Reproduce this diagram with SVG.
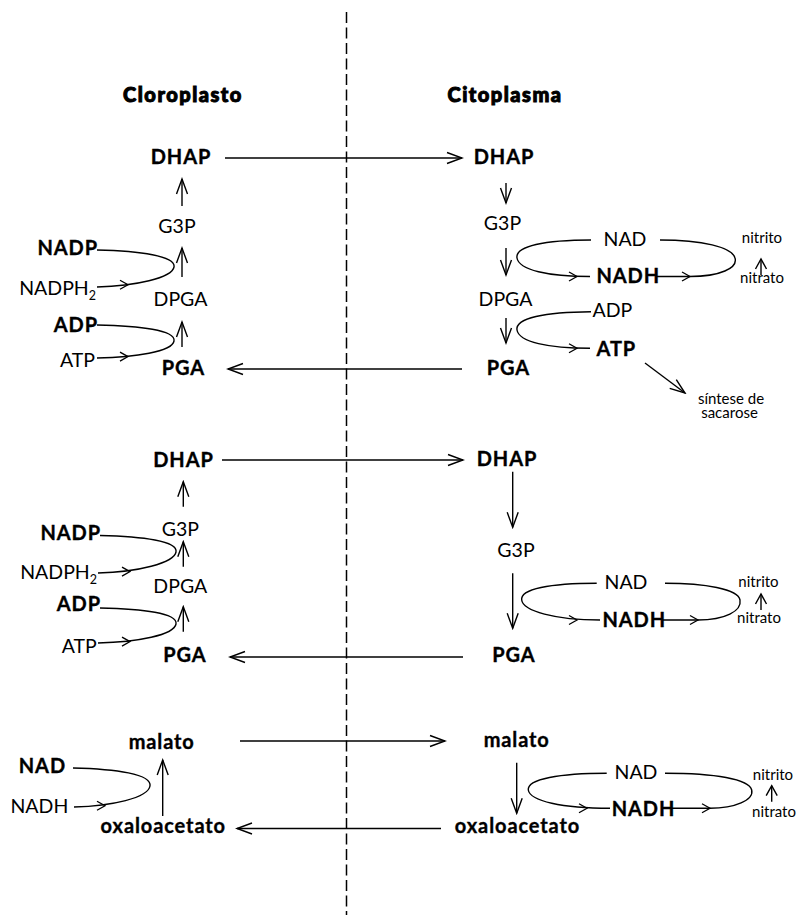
<svg xmlns="http://www.w3.org/2000/svg" width="796" height="915" viewBox="0 0 796 915">
<style>
  text { font-family: Lato, "DejaVu Sans", sans-serif; fill: #000; }
  .r { font-size: 19.5px; }
  .b { font-size: 20px; font-weight: 700; letter-spacing: 0.9px; stroke: #000; stroke-width: 0.35px; }
  .h { font-size: 20px; font-weight: 900; letter-spacing: 1.5px; stroke: #000; stroke-width: 1px; }
  .s { font-size: 15px; }
  .m { text-anchor: middle; }
  .e { text-anchor: end; }
  .ln { fill: none; stroke: #000; stroke-width: 1.4; }
  .ar { marker-end: url(#ah); }
  .ars { marker-end: url(#ahs); }
  .dash { stroke-dasharray: 11 4.5; stroke-width: 1.5; }
</style>
<defs>
  <marker id="ah" markerUnits="userSpaceOnUse" markerWidth="20" markerHeight="16" viewBox="-18 -8 20 16" refX="0" refY="0" orient="auto">
    <path d="M-15,-5.5 L0,0 L-15,5.5" fill="none" stroke="#000" stroke-width="1.4"/>
  </marker>
  <marker id="ahs" markerUnits="userSpaceOnUse" markerWidth="14" markerHeight="14" viewBox="-12 -7 14 14" refX="0" refY="0" orient="auto">
    <path d="M-10,-5.5 L0,0 L-10,5.5" fill="none" stroke="#000" stroke-width="1.4"/>
  </marker>
  <path id="chev" d="M-8,-4.5 L0,0 L-8,4.5" fill="none" stroke="#000" stroke-width="1.3"/>
</defs>

<!-- membrane divider -->
<path class="ln dash" d="M346.5,12 V915"/>

<!-- compartment headings -->
<g id="hd-cloroplasto"><text class="h m" x="183" y="102">Cloroplasto</text></g>
<g id="hd-citoplasma"><text class="h m" x="505" y="102">Citoplasma</text></g>

<!-- block 1: chloroplast side -->
<g id="c1-dhap"><text class="b m" x="181" y="164">DHAP</text></g>
<g id="c1-g3p"><text class="r m" x="177" y="233">G3P</text></g>
<g id="c1-dpga"><text class="r m" x="180.5" y="305.5">DPGA</text></g>
<g id="c1-pga"><text class="b m" x="183.5" y="375">PGA</text></g>
<g id="c1-nadp"><text class="b e" x="98" y="255">NADP</text></g>
<g id="c1-nadph2"><text class="r e" x="96" y="295">NADPH<tspan font-size="12.5" dy="5">2</tspan></text></g>
<g id="c1-adp"><text class="b e" x="98" y="331.5">ADP</text></g>
<g id="c1-atp"><text class="r e" x="95" y="366.5">ATP</text></g>

<!-- block 1: cytoplasm side -->
<g id="y1-dhap"><text class="b m" x="504" y="164">DHAP</text></g>
<g id="y1-g3p"><text class="r m" x="502.5" y="230">G3P</text></g>
<g id="y1-dpga"><text class="r m" x="505.5" y="305.5">DPGA</text></g>
<g id="y1-pga"><text class="b m" x="508.5" y="375">PGA</text></g>
<g id="y1-nad"><text class="r m" x="625" y="246">NAD</text></g>
<g id="y1-nadh"><text class="b" x="596.5" y="283.3">NADH</text></g>
<g id="y1-adp"><text class="r" x="592.5" y="317.3">ADP</text></g>
<g id="y1-atp"><text class="b" x="596.5" y="355.7">ATP</text></g>
<g id="y1-nitrito"><text class="s m" x="762" y="243">nitrito</text></g>
<g id="y1-nitrato"><text class="s m" x="762" y="283">nitrato</text></g>
<g id="y1-sacarose"><text class="s m" x="731" y="403.5">síntese de</text><text class="s m" x="729.5" y="418">sacarose</text></g>

<!-- block 2: chloroplast side -->
<g id="c2-dhap"><text class="b m" x="183.5" y="467">DHAP</text></g>
<g id="c2-g3p"><text class="r m" x="180.3" y="536">G3P</text></g>
<g id="c2-dpga"><text class="r m" x="180.3" y="592.7">DPGA</text></g>
<g id="c2-pga"><text class="b m" x="185" y="661.7">PGA</text></g>
<g id="c2-nadp"><text class="b e" x="101" y="540">NADP</text></g>
<g id="c2-nadph2"><text class="r e" x="97" y="579">NADPH<tspan font-size="12.5" dy="5">2</tspan></text></g>
<g id="c2-adp"><text class="b e" x="101" y="610.7">ADP</text></g>
<g id="c2-atp"><text class="r e" x="96.7" y="652.7">ATP</text></g>

<!-- block 2: cytoplasm side -->
<g id="y2-dhap"><text class="b m" x="507" y="466">DHAP</text></g>
<g id="y2-g3p"><text class="r m" x="516" y="557.3">G3P</text></g>
<g id="y2-pga"><text class="b m" x="514" y="661.7">PGA</text></g>
<g id="y2-nad"><text class="r m" x="626" y="589.3">NAD</text></g>
<g id="y2-nadh"><text class="b" x="602.5" y="626.7">NADH</text></g>
<g id="y2-nitrito"><text class="s m" x="758.5" y="586.7">nitrito</text></g>
<g id="y2-nitrato"><text class="s m" x="759" y="623.3">nitrato</text></g>

<!-- block 3: chloroplast side -->
<g id="c3-malato"><text class="b m" x="161.7" y="749">malato</text></g>
<g id="c3-oxaloacetato"><text class="b m" x="163.3" y="833">oxaloacetato</text></g>
<g id="c3-nad"><text class="b e" x="66" y="772.7">NAD</text></g>
<g id="c3-nadh"><text class="r e" x="68.3" y="812.7">NADH</text></g>

<!-- block 3: cytoplasm side -->
<g id="y3-malato"><text class="b m" x="516.7" y="747">malato</text></g>
<g id="y3-oxaloacetato"><text class="b m" x="517.5" y="833">oxaloacetato</text></g>
<g id="y3-nad"><text class="r m" x="636" y="779.3">NAD</text></g>
<g id="y3-nadh"><text class="b" x="611.7" y="816">NADH</text></g>
<g id="y3-nitrito"><text class="s m" x="773" y="780">nitrito</text></g>
<g id="y3-nitrato"><text class="s m" x="774" y="816.7">nitrato</text></g>

<g id="connectors">
  <!-- transport across the envelope -->
  <path class="ln ar" d="M225,158 H462"/>
  <path class="ln ar" d="M462,369 H228"/>
  <path class="ln ar" d="M222,460 H463"/>
  <path class="ln ar" d="M463,657 H230"/>
  <path class="ln ar" d="M240,741 H445"/>
  <path class="ln ar" d="M441,828.5 H237"/>

  <!-- chloroplast reductions -->
  <path class="ln ar" d="M182,206 V179"/>
  <path class="ln ar" d="M182,277 V248"/>
  <path class="ln ar" d="M182,347 V322"/>
  <path class="ln ar" d="M183.3,506.7 V481.7"/>
  <path class="ln ar" d="M183.3,566.7 V541.7"/>
  <path class="ln ar" d="M183.3,631.7 V606.7"/>
  <path class="ln ar" d="M162.7,816 V760"/>

  <!-- cytoplasm oxidations -->
  <path class="ln ar" d="M506,183 V203"/>
  <path class="ln ar" d="M506,248 V275"/>
  <path class="ln ar" d="M506,318 V343"/>
  <path class="ln ar" d="M512.7,471.7 V527.3"/>
  <path class="ln ar" d="M512.7,573.3 V628.3"/>
  <path class="ln ar" d="M516.7,762.7 V813.3"/>

  <!-- nitrate reduction -->
  <path class="ln ars" d="M761,275 V259"/>
  <path class="ln ars" d="M761,610 V594"/>
  <path class="ln ars" d="M771.7,801.7 V785.7"/>

  <!-- ATP to sucrose synthesis -->
  <path class="ln ar" d="M645,363 L685,393"/>

  <!-- cofactor loops, chloroplast -->
  <path class="ln" d="M97,250 C140,251 176,256 174,267 C172,278 135,286 97,287"/>
  <use href="#chev" x="128" y="284.8"/>
  <path class="ln" d="M97,325 C140,326 176,330 174,341 C172,352 135,357 97,358"/>
  <use href="#chev" x="128" y="356.6"/>
  <path class="ln" d="M100,535.5 C143,536.5 178,541 176,552 C174,563 138,572 98,573"/>
  <use href="#chev" x="130" y="571.6"/>
  <path class="ln" d="M100,608 C143,609 178,613 176,624 C174,635 138,642 98,643"/>
  <use href="#chev" x="130" y="641.6"/>
  <path class="ln" d="M73,768 C116,769 152,774 150,786 C148,798 112,806 74,807"/>
  <use href="#chev" x="105" y="805.7"/>

  <!-- cofactor loops, cytoplasm -->
  <path class="ln" d="M591,240 C545,240 515,246 517,258 C519,270 548,276.5 590,276.5"/>
  <use href="#chev" x="577" y="276.5"/>
  <path class="ln" d="M656,276.5 H690 C720,276.5 738,268 735,258 C732,247 702,240 660,240"/>
  <use href="#chev" x="690" y="276.5"/>

  <path class="ln" d="M591,311.7 C545,312 515,318 517,330 C519,342 548,348.3 590,348.3"/>
  <use href="#chev" x="577" y="348.3"/>

  <path class="ln" d="M596.7,583.3 C550,583.3 520,589 521.7,600 C523,611 555,620 600,620"/>
  <use href="#chev" x="577" y="620"/>
  <path class="ln" d="M662,620 H698 C725,620 742,611 740,600 C738,589 705,583.3 665,583.3"/>
  <use href="#chev" x="698" y="620"/>

  <path class="ln" d="M606.7,773.3 C560,773.3 527,779 528.3,790 C530,801 562,808.3 610,808.3"/>
  <use href="#chev" x="587" y="808.3"/>
  <path class="ln" d="M672,808.3 H710 C735,808.3 754,800 751.7,790 C749,779 715,773.3 665,773.3"/>
  <use href="#chev" x="710" y="808.3"/>
</g>
</svg>
